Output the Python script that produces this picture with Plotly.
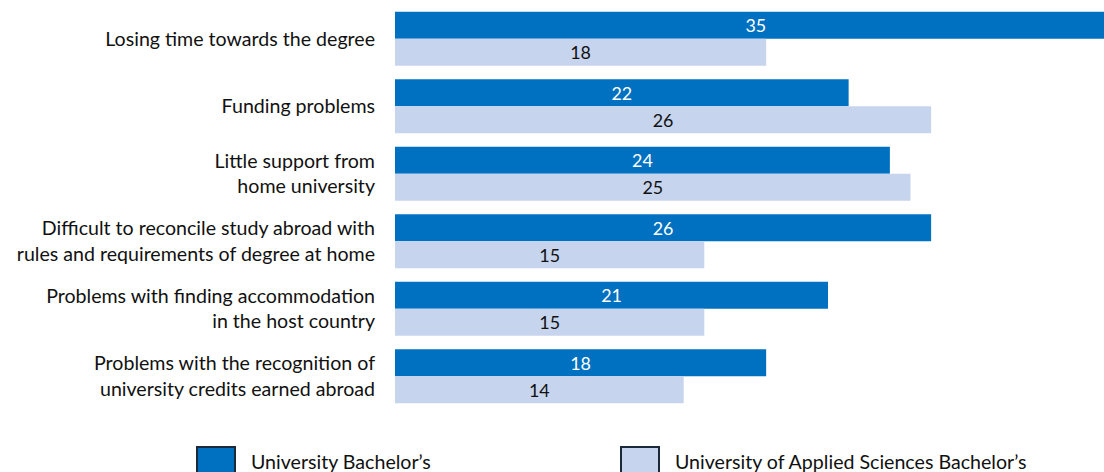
import plotly.graph_objects as go

categories = [
    "Losing time towards the degree",
    "Funding problems",
    "Little support from<br>home university",
    "Difficult to reconcile study abroad with<br>rules and requirements of degree at home",
    "Problems with finding accommodation<br>in the host country",
    "Problems with the recognition of<br>university credits earned abroad",
]
university = [35, 22, 24, 26, 21, 18]
uas = [18, 26, 25, 15, 15, 14]
series_names = ["University Bachelor’s", "University of Applied Sciences Bachelor’s"]

DARK = "#0070C0"
LIGHT = "#C7D4ED"
FONT = "Lato"
FS = 19.6

W, H = 1104, 472
ML, MR, MT, MB = 395, 0, 5, 62

fig = go.Figure()
fig.add_trace(go.Bar(
    y=categories, x=university, orientation="h", name=series_names[0],
    marker=dict(color=DARK, line=dict(width=0)),
    text=university, textposition="inside", insidetextanchor="middle",
    textfont=dict(color="white", size=FS, family=FONT), textangle=0,
    cliponaxis=True,
))
fig.add_trace(go.Bar(
    y=categories, x=uas, orientation="h", name=series_names[1],
    marker=dict(color=LIGHT, line=dict(width=0)),
    text=uas, textposition="inside", insidetextanchor="middle",
    textfont=dict(color="#111111", size=FS, family=FONT), textangle=0,
    cliponaxis=True,
))

# custom legend (large outlined squares)
ph = H - MT - MB
def py(p):
    return (H - MB - p) / ph
def px(p):
    return (p - ML) / (W - ML - MR)

shapes = []
annotations = []
for x0, name, col in [(197, series_names[0], DARK), (621, series_names[1], LIGHT)]:
    shapes.append(dict(type="rect", xref="paper", yref="paper",
                       x0=px(x0), x1=px(x0 + 38), y0=py(447), y1=py(485),
                       fillcolor=col, line=dict(color="#1b2a3a", width=2), layer="above"))
    annotations.append(dict(xref="paper", yref="paper", x=px(x0 + 52), y=py(461),
                            text=name, showarrow=False, xanchor="left", yanchor="middle",
                            font=dict(size=FS, family=FONT, color="#111111")))

fig.update_layout(
    width=W, height=H,
    margin=dict(l=ML, r=MR, t=MT, b=MB, autoexpand=False),
    barmode="group", bargap=0.2, bargroupgap=0,
    plot_bgcolor="white", paper_bgcolor="white",
    showlegend=False,
    uniformtext=dict(mode=False),
    font=dict(family=FONT, size=FS, color="#111111"),
    shapes=shapes, annotations=annotations,
)
fig.update_xaxes(range=[0, 709 / 20.62], visible=False, showgrid=False, zeroline=False)
fig.update_yaxes(autorange="reversed", showgrid=False, zeroline=False, showline=False,
                 ticks="", ticklabelstandoff=19,
                 tickfont=dict(size=FS, family=FONT, color="#111111"))

fig.write_html("out.html")
